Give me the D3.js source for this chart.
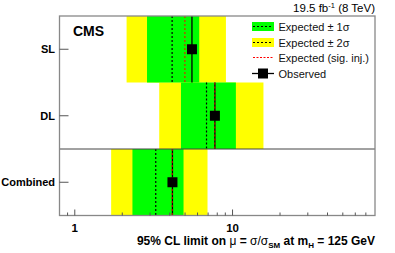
<!DOCTYPE html>
<html><head><meta charset="utf-8">
<script src="https://cdn.jsdelivr.net/npm/d3@7"></script>
<style>body{margin:0;background:#fff}svg{display:block;font-family:"Liberation Sans",Arial,Helvetica,sans-serif}</style>
</head><body><svg id="c" width="395" height="253"></svg>
<script>
const categories = ["SL", "DL", "Combined"];
const yellowLo = [2.13, 3.43, 1.70];
const greenLo  = [2.87, 4.71, 2.32];
const expected = [4.14, 6.84, 3.26];
const sigInj   = [4.99, 7.73, 4.14];
const observed = [5.53, 7.73, 4.16];
const greenHi  = [6.15, 10.5, 4.89];
const yellowHi = [9.08, 15.7, 6.94];
const xTickLabels = [1, 10];
const legendLabels = ["Expected \u00b1 1\u03c3", "Expected \u00b1 2\u03c3", "Expected (sig. inj.)", "Observed"];

const svg = d3.select("#c");
const L = 59.5, R = 375, T = 16, B = 215.5;
const x = d3.scaleLog().domain([0.8, 80]).range([L, R]);
const y = d3.scaleBand().domain(categories).range([T, B]).padding(0);
const bw = y.bandwidth();

const rows = categories.map((c, i) => ({c, yl: yellowLo[i], gl: greenLo[i], e: expected[i], s: sigInj[i], o: observed[i], gh: greenHi[i], yh: yellowHi[i]}));

const g = svg.append("g");
g.selectAll(".yb").data(rows).join("rect")
  .attr("x", d => x(d.yl)).attr("width", d => x(d.yh) - x(d.yl))
  .attr("y", d => y(d.c)).attr("height", bw).attr("fill", "#ffff00");
g.selectAll(".gb").data(rows).join("rect")
  .attr("x", d => x(d.gl)).attr("width", d => x(d.gh) - x(d.gl))
  .attr("y", d => y(d.c)).attr("height", bw).attr("fill", "#00ff00");
g.selectAll(".ex").data(rows).join("line")
  .attr("x1", d => x(d.e)).attr("x2", d => x(d.e))
  .attr("y1", d => y(d.c)).attr("y2", d => y(d.c) + bw)
  .attr("stroke", "#000").attr("stroke-width", 1.2).attr("stroke-dasharray", "2,2");
g.selectAll(".ob").data(rows).join("line")
  .attr("x1", d => x(d.o)).attr("x2", d => x(d.o))
  .attr("y1", d => y(d.c)).attr("y2", d => y(d.c) + bw)
  .attr("stroke", "#000").attr("stroke-width", 1.3);
g.selectAll(".si").data(rows).join("line")
  .attr("x1", d => x(d.s)).attr("x2", d => x(d.s))
  .attr("y1", d => y(d.c)).attr("y2", d => y(d.c) + bw)
  .attr("stroke", "#ff0000").attr("stroke-width", 1).attr("stroke-dasharray", "2,2");
g.selectAll(".mk").data(rows).join("rect")
  .attr("x", d => x(d.o) - 5).attr("y", d => y(d.c) + bw / 2 - 5)
  .attr("width", 10).attr("height", 10).attr("fill", "#000");

// separator between DL and Combined
svg.append("line").attr("x1", L).attr("x2", R)
  .attr("y1", y("Combined")).attr("y2", y("Combined"))
  .attr("stroke", "#444").attr("stroke-width", 1);

// frame
svg.append("rect").attr("x", L).attr("y", T).attr("width", R - L).attr("height", B - T)
  .attr("fill", "none").attr("stroke", "#888").attr("stroke-width", 1.3);

// x ticks
const ticks = x.ticks(20).filter(v => v > 0.8 && v < 80);
svg.selectAll(".xt").data(ticks).join("line")
  .attr("x1", d => x(d)).attr("x2", d => x(d))
  .attr("y1", B).attr("y2", d => B - (xTickLabels.includes(d) ? 6 : 3))
  .attr("stroke", "#555").attr("stroke-width", 1);
svg.selectAll(".xl").data(xTickLabels).join("text")
  .attr("x", d => x(d)).attr("y", 231.5).attr("text-anchor", "middle")
  .attr("font-size", 11.5).attr("font-weight", "bold").text(d => d);

// y ticks and labels
svg.selectAll(".yt").data(categories).join("line")
  .attr("x1", L).attr("x2", L + 9)
  .attr("y1", d => y(d) + bw / 2).attr("y2", d => y(d) + bw / 2)
  .attr("stroke", "#555");
svg.selectAll(".yl").data(categories).join("text")
  .attr("x", 55).attr("y", d => y(d) + bw / 2 + 4).attr("text-anchor", "end")
  .attr("font-size", 11).attr("font-weight", "bold").text(d => d);

// x title
const xt = svg.append("text").attr("x", 375).attr("y", 245).attr("text-anchor", "end")
  .attr("font-size", 12).attr("font-weight", "bold");
xt.append("tspan").text("95% CL limit on ");
xt.append("tspan").attr("font-weight", "normal").text("\u03bc");
xt.append("tspan").text(" = ");
xt.append("tspan").attr("font-weight", "normal").text("\u03c3/\u03c3");
xt.append("tspan").attr("font-size", 8).attr("dy", 3).text("SM");
xt.append("tspan").attr("dy", -3).text(" at m");
xt.append("tspan").attr("font-size", 8).attr("dy", 3).text("H");
xt.append("tspan").attr("dy", -3).text(" = 125 GeV");

// top-right lumi
const lt = svg.append("text").attr("x", 375).attr("y", 12).attr("text-anchor", "end").attr("font-size", 11.5);
lt.append("tspan").text("19.5 fb");
lt.append("tspan").attr("font-size", 7.5).attr("dy", -4).text("-1");
lt.append("tspan").attr("dy", 4).text(" (8 TeV)");

// CMS
svg.append("text").attr("x", 73).attr("y", 36).attr("font-size", 14).attr("font-weight", "bold").text("CMS");

// legend
const ly = [26.5, 42.5, 57.5, 73.5];
const lx0 = 252, lx1 = 274;
const lg = svg.append("g");
lg.append("rect").attr("x", lx0).attr("y", ly[0] - 4.5).attr("width", lx1 - lx0).attr("height", 9).attr("fill", "#00ff00");
lg.append("rect").attr("x", lx0).attr("y", ly[1] - 4.5).attr("width", lx1 - lx0).attr("height", 9).attr("fill", "#ffff00");
[0, 1].forEach(i => lg.append("line").attr("x1", lx0 + 1).attr("x2", lx1 - 1).attr("y1", ly[i]).attr("y2", ly[i])
  .attr("stroke", "#000").attr("stroke-width", 1.2).attr("stroke-dasharray", "2,2"));
lg.append("line").attr("x1", lx0 + 1).attr("x2", lx1 - 1).attr("y1", ly[2]).attr("y2", ly[2])
  .attr("stroke", "#ff0000").attr("stroke-width", 1).attr("stroke-dasharray", "2,1.5");
lg.append("line").attr("x1", lx0).attr("x2", lx1).attr("y1", ly[3]).attr("y2", ly[3]).attr("stroke", "#000").attr("stroke-width", 1.3);
lg.append("rect").attr("x", (lx0 + lx1) / 2 - 5).attr("y", ly[3] - 5).attr("width", 10).attr("height", 10).attr("fill", "#000");
lg.selectAll("text").data(legendLabels).join("text")
  .attr("x", 278.5).attr("y", (d, i) => ly[i] + 4).attr("font-size", 11).attr("fill", "#111").text(d => d);
</script></body></html>
